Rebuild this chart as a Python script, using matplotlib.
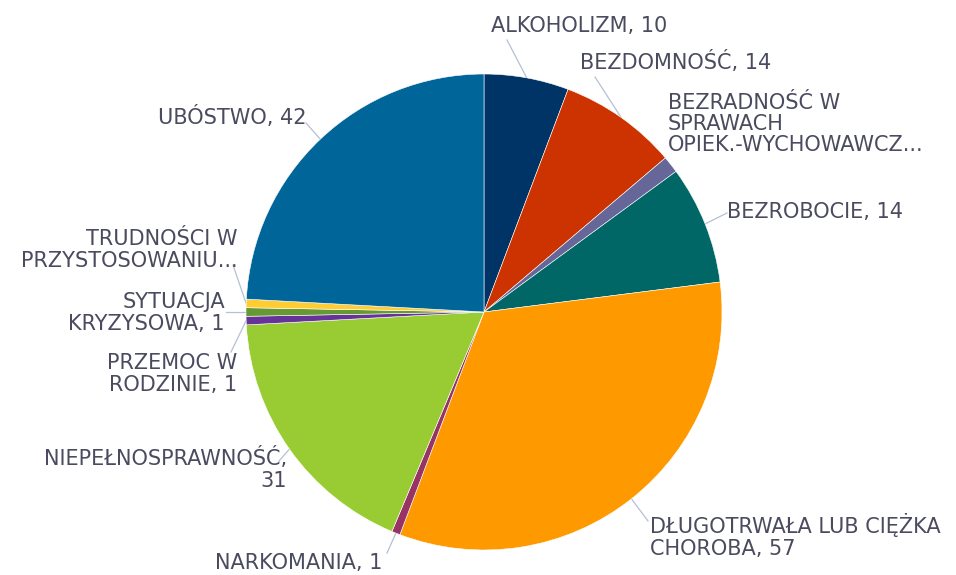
import numpy as np
import matplotlib
matplotlib.use("Agg")
import matplotlib.pyplot as plt

# categories and counts
labels = ["ALKOHOLIZM, 10", "BEZDOMNOŚĆ, 14", "BEZRADNOŚĆ W\nSPRAWACH\nOPIEK.-WYCHOWAWCZ...",
          "BEZROBOCIE, 14", "DŁUGOTRWAŁA LUB CIĘŻKA\nCHOROBA, 57", "NARKOMANIA, 1",
          "NIEPEŁNOSPRAWNOŚĆ,\n31", "PRZEMOC W\nRODZINIE, 1", "SYTUACJA\nKRYZYSOWA, 1",
          "TRUDNOŚCI W\nPRZYSTOSOWANIU...", "UBÓSTWO, 42"]
values = [10, 14, 2, 14, 57, 1, 31, 1, 1, 1, 42]
colors = ["#003366", "#cc3300", "#666699", "#006666", "#ff9900", "#993366",
          "#99cc33", "#663399", "#669933", "#ffcc33", "#006699"]

# label placement in pixels: (x, y, ha, leader end x, leader end y)
label_pos = [
    (491, 26, "left", 507, 40),
    (580, 62, "left", 595, 77),
    (668, 124, "left", None, None),
    (727, 212, "left", 727, 213),
    (650, 536, "left", 648, 521),
    (215, 563, "left", 387, 553),
    (287, 469, "right", 279, 461),
    (237, 374, "right", 231, 352),
    (225, 313, "right", 226, 312),
    (238, 250, "right", 233, 265),
    (307, 117, "right", 306, 123),
]

W, H = 956, 575
CX, CY, R = 484, 312, 238

def py(y):
    return H - y

plt.rcParams['font.family'] = ['DejaVu Sans']
fig = plt.figure(figsize=(W / 100, H / 100), dpi=100)
ax = fig.add_axes([0, 0, 1, 1])

ax.pie(values, colors=colors, startangle=90, counterclock=False,
       center=(CX, py(CY)), radius=R,
       wedgeprops=dict(edgecolor="white", linewidth=0.4))

ax.set_xlim(0, W)
ax.set_ylim(0, H)
ax.set_aspect("equal")
ax.axis("off")

total = float(sum(values))
cum = 0.0
for lab, v, pos in zip(labels, values, label_pos):
    mid = (cum + v / 2.0) / total * 2 * np.pi
    cum += v
    ex = CX + R * np.sin(mid)
    ey = CY - R * np.cos(mid)
    tx, ty, ha, lx, ly = pos
    if lx is not None:
        ax.plot([ex, lx], [py(ey), py(ly)], color="#b4c0d4", lw=0.9, zorder=0)
    ax.text(tx, py(ty), lab, ha=ha, va="center", multialignment=ha,
            fontsize=15, color="#4a4b5e", linespacing=1.09)

fig.savefig("out.png", dpi=100)
